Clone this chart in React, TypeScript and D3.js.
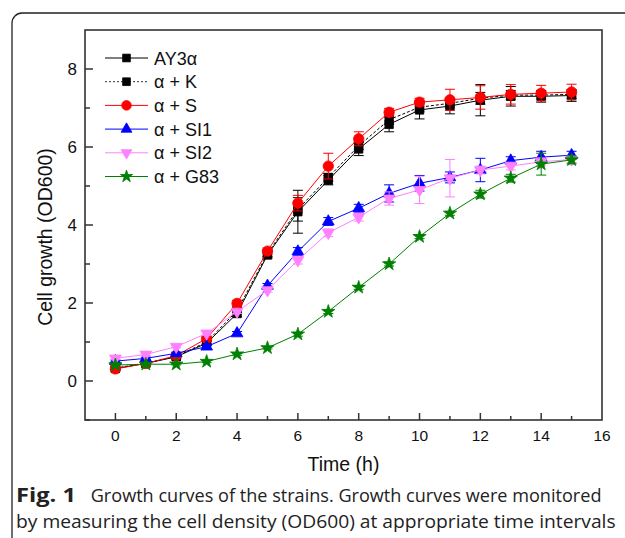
import React, { useLayoutEffect, useRef, useState } from "react";
import * as d3 from "d3";

const times = [0, 1, 2, 3, 4, 5, 6, 7, 8, 9, 10, 11, 12, 13, 14, 15];
const seriesNames = ["AY3α", "α + K", "α + S", "α + SI1", "α + SI2", "α + G83"];
const ay3 = [0.32, 0.45, 0.62, 0.97, 1.73, 3.23, 4.34, 5.15, 5.95, 6.58, 6.95, 7.05, 7.2, 7.3, 7.3, 7.32];
const alphaK = [0.33, 0.46, 0.63, 1.0, 1.8, 3.27, 4.4, 5.22, 6.03, 6.7, 7.02, 7.12, 7.25, 7.33, 7.33, 7.35];
const alphaS = [0.31, 0.45, 0.65, 1.09, 1.99, 3.33, 4.56, 5.51, 6.21, 6.89, 7.15, 7.21, 7.27, 7.35, 7.38, 7.41];
const alphaSI1 = [0.51, 0.58, 0.71, 0.88, 1.22, 2.44, 3.32, 4.09, 4.43, 4.81, 5.07, 5.22, 5.41, 5.65, 5.74, 5.79];
const alphaSI2 = [0.58, 0.68, 0.88, 1.22, 1.78, 2.33, 3.1, 3.8, 4.2, 4.68, 4.9, 5.2, 5.41, 5.51, 5.62, 5.68];
const alphaG83 = [0.41, 0.43, 0.43, 0.5, 0.69, 0.85, 1.2, 1.78, 2.4, 3.0, 3.7, 4.3, 4.79, 5.2, 5.56, 5.67];

const errAy3 = [0.03, 0.03, 0.05, 0.05, 0.08, 0.08, 0.55, 0.12, 0.17, 0.19, 0.23, 0.2, 0.4, 0.25, 0.15, 0.15];
const errK = [0.03, 0.03, 0.04, 0.05, 0.07, 0.08, 0.3, 0.1, 0.1, 0.12, 0.12, 0.12, 0.15, 0.12, 0.1, 0.1];
const errS = [0.03, 0.03, 0.04, 0.06, 0.08, 0.08, 0.2, 0.33, 0.18, 0.1, 0.1, 0.27, 0.3, 0.25, 0.2, 0.2];
const errSI1 = [0.03, 0.03, 0.03, 0.05, 0.05, 0.06, 0.1, 0.1, 0.1, 0.22, 0.2, 0.14, 0.3, 0.1, 0.15, 0.1];
const errSI2 = [0.03, 0.03, 0.03, 0.05, 0.05, 0.05, 0.1, 0.1, 0.1, 0.17, 0.35, 0.48, 0.1, 0.1, 0.1, 0.08];
const errG83 = [0.02, 0.02, 0.02, 0.03, 0.03, 0.03, 0.05, 0.05, 0.05, 0.05, 0.05, 0.05, 0.1, 0.1, 0.28, 0.1];

const xTicks = [0, 2, 4, 6, 8, 10, 12, 14, 16];
const xMinor = [1, 3, 5, 7, 9, 11, 13, 15];
const yTicks = [0, 2, 4, 6, 8];
const yMinor = [-1, 1, 3, 5, 7];

const captionBold = "Fig. 1";
const captionLine1 = "Growth curves of the strains. Growth curves were monitored";
const captionLine2 = "by measuring the cell density (OD600) at appropriate time intervals";

type S = {
  name: string;
  values: number[];
  errs: number[];
  color: string;
  dash?: string;
  symbol: d3.SymbolType;
  size: number;
  rotate?: number;
};

const series: S[] = [
  { name: seriesNames[0], values: ay3, errs: errAy3, color: "#000000", symbol: d3.symbolSquare, size: 70 },
  { name: seriesNames[1], values: alphaK, errs: errK, color: "#000000", dash: "3,2", symbol: d3.symbolSquare, size: 70 },
  { name: seriesNames[2], values: alphaS, errs: errS, color: "#ff0000", symbol: d3.symbolCircle, size: 85 },
  { name: seriesNames[3], values: alphaSI1, errs: errSI1, color: "#0000ff", symbol: d3.symbolTriangle, size: 60 },
  { name: seriesNames[4], values: alphaSI2, errs: errSI2, color: "#ff80ff", symbol: d3.symbolTriangle, size: 60, rotate: 180 },
  { name: seriesNames[5], values: alphaG83, errs: errG83, color: "#008000", symbol: d3.symbolStar, size: 55 },
];

const FONT = "'Liberation Sans', Arial, sans-serif";
const CAP_FONT = "'Open Sans', 'Noto Sans', sans-serif";

function FitText(props: { x: number; y: number; width: number; text: string; bold?: boolean; size: number }) {
  const ref = useRef<SVGTextElement>(null);
  const [sx, setSx] = useState(1);
  useLayoutEffect(() => {
    if (ref.current) {
      const w = ref.current.getComputedTextLength();
      if (w > 0) setSx(props.width / w);
    }
  }, [props.text, props.width]);
  return (
    <text
      ref={ref}
      transform={`translate(${props.x},${props.y}) scale(${sx},1)`}
      fontFamily={CAP_FONT}
      fontSize={props.size}
      fontWeight={props.bold ? 700 : 400}
      fill="#222"
    >
      {props.text}
    </text>
  );
}

export default function App() {
  const left = 85, right = 602, top = 30, bottom = 420;
  const x = d3.scaleLinear().domain([-1, 16]).range([left, right]);
  const y = d3.scaleLinear().domain([-1, 9]).range([bottom, top]);
  const line = d3.line<number>().x((_, i) => x(times[i])).y((v) => y(v));

  const legendX0 = 105, legendX1 = 148, legendY0 = 58, legendDy = 23.7;

  return (
    <svg width={625} height={538} style={{ position: "absolute", left: 0, top: 0, background: "#fff" }}>
      <rect x={0} y={0} width={625} height={538} fill="#fff" />
      {/* outer rounded box */}
      <rect x={12} y={13} width={700} height={620} rx={10} ry={10} fill="none" stroke="#222" strokeWidth={1.3} />

      {/* ticks */}
      {xTicks.map((t) => (
        <g key={"xt" + t}>
          {t < 16 && <line x1={x(t)} x2={x(t)} y1={bottom} y2={bottom - 7} stroke="#333" strokeWidth={1.5} />}
          <text x={x(t)} y={441} textAnchor="middle" fontFamily={FONT} fontSize={15.5} fill="#111">{t}</text>
        </g>
      ))}
      {xMinor.map((t) => (
        <line key={"xm" + t} x1={x(t)} x2={x(t)} y1={bottom} y2={bottom - 4} stroke="#333" strokeWidth={1.5} />
      ))}
      {yTicks.map((t) => (
        <g key={"yt" + t}>
          <line x1={left} x2={left + 8} y1={y(t)} y2={y(t)} stroke="#333" strokeWidth={1.5} />
          <text x={77} y={y(t) + 6} textAnchor="end" fontFamily={FONT} fontSize={17} fill="#111">{t}</text>
        </g>
      ))}
      {yMinor.map((t) => (
        <line key={"ym" + t} x1={left} x2={left + 5} y1={y(t)} y2={y(t)} stroke="#333" strokeWidth={1.5} />
      ))}

      {/* series */}
      {series.map((s) => (
        <g key={s.name}>
          <path d={line(s.values) || ""} fill="none" stroke={s.color} strokeWidth={1} strokeDasharray={s.dash} />
          {s.values.map((v, i) => (
            <g key={i} stroke={s.color} strokeWidth={1}>
              <line x1={x(times[i])} x2={x(times[i])} y1={y(v - s.errs[i])} y2={y(v + s.errs[i])} />
              <line x1={x(times[i]) - 5} x2={x(times[i]) + 5} y1={y(v - s.errs[i])} y2={y(v - s.errs[i])} />
              <line x1={x(times[i]) - 5} x2={x(times[i]) + 5} y1={y(v + s.errs[i])} y2={y(v + s.errs[i])} />
            </g>
          ))}
          {s.values.map((v, i) => (
            <path
              key={"m" + i}
              d={d3.symbol().type(s.symbol).size(s.size)() || ""}
              transform={`translate(${x(times[i])},${y(v)}) rotate(${s.rotate || 0})`}
              fill={s.color}
              stroke={s.color}
              strokeWidth={0.8}
            />
          ))}
        </g>
      ))}

      {/* frame */}
      <rect x={left} y={top} width={right - left} height={bottom - top} fill="none" stroke="#333" strokeWidth={1.6} />

      {/* legend */}
      {series.map((s, i) => {
        const ly = legendY0 + i * legendDy;
        return (
          <g key={"lg" + s.name}>
            <line x1={legendX0} x2={legendX1} y1={ly} y2={ly} stroke={s.dash ? "#333" : s.color} strokeWidth={1} strokeDasharray={s.dash ? "2,2" : undefined} />
            <path
              d={d3.symbol().type(s.symbol).size(s.size * 0.85)() || ""}
              transform={`translate(${(legendX0 + legendX1) / 2},${ly}) rotate(${s.rotate || 0})`}
              fill={s.color}
              stroke={s.color}
              strokeWidth={0.8}
            />
            <text x={154} y={ly + 6.5} fontFamily={FONT} fontSize={18} fill="#111">{s.name}</text>
          </g>
        );
      })}

      {/* axis titles */}
      <text x={(left + right) / 2} y={471} textAnchor="middle" fontFamily={FONT} fontSize={19.5} fill="#111">Time (h)</text>
      <text transform={`translate(52,${(top + bottom) / 2 + 12}) rotate(-90)`} textAnchor="middle" fontFamily={FONT} fontSize={19.5} fill="#111">Cell growth (OD600)</text>

      {/* caption */}
      <FitText x={16} y={502} width={60} text={captionBold} bold size={19} />
      <FitText x={90.7} y={502} width={511} text={captionLine1} size={19} />
      <FitText x={16} y={528} width={600} text={captionLine2} size={19} />
    </svg>
  );
}
